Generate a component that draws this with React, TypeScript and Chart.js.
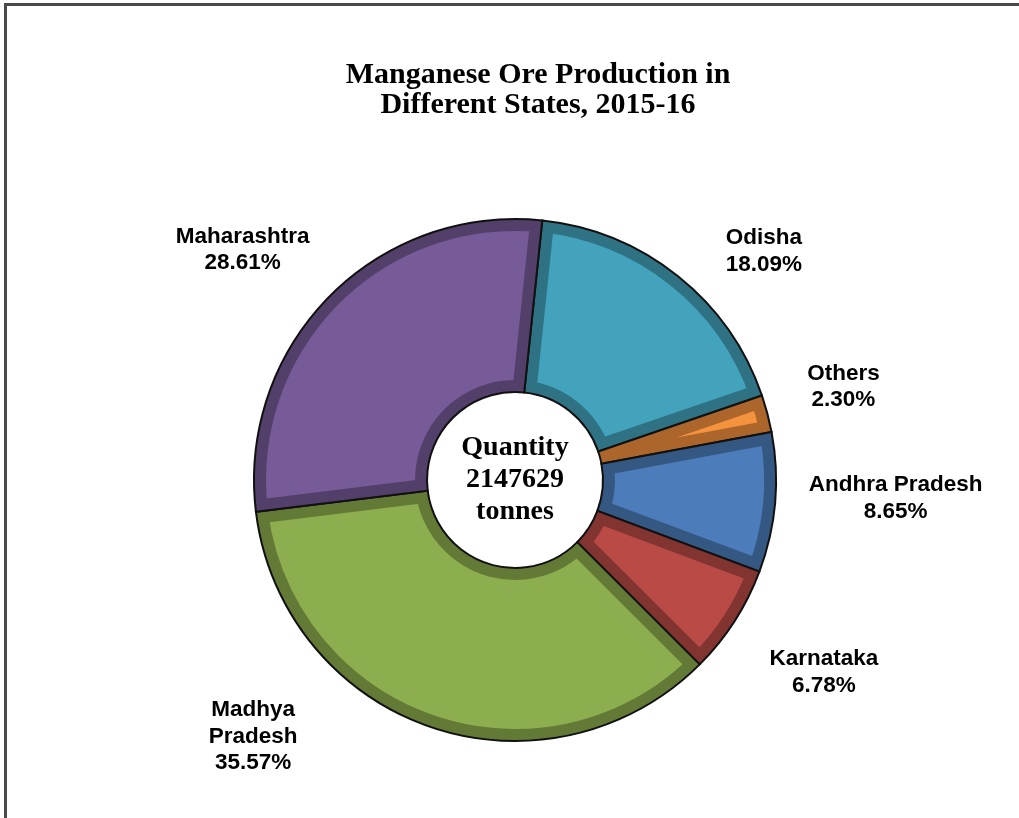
import { useEffect, useRef } from "react";
import { Chart, registerables } from "chart.js";

Chart.register(...registerables);

const titleLines = ["Manganese Ore Production in", "Different States, 2015-16"];
const centerLines = ["Quantity", "2147629", "tonnes"];
const states = ["Odisha", "Others", "Andhra Pradesh", "Karnataka", "Madhya Pradesh", "Maharashtra"];
const labelLines = [["Odisha"], ["Others"], ["Andhra Pradesh"], ["Karnataka"], ["Madhya", "Pradesh"], ["Maharashtra"]];
const shares = [18.09, 2.3, 8.65, 6.78, 35.57, 28.61];
const colors = ["#43A3BD", "#F5923E", "#4C7DBA", "#B94A46", "#8DAE4F", "#765B98"];

// label placement (style): angular shift from slice middle (deg) and distance as fraction of outer radius
const labelAngleShift = [8.6, -1.4, -2.5, -1.1, 26.8, -4.1];
const labelDistance = [1.3, 1.31, 1.46, 1.39, 1.4, 1.37];

function shade(hex: string, f: number) {
  const n = parseInt(hex.slice(1), 16);
  const r = Math.round(((n >> 16) & 255) * f);
  const g = Math.round(((n >> 8) & 255) * f);
  const b = Math.round((n & 255) * f);
  return `rgb(${r},${g},${b})`;
}

const decor = {
  id: "decor",
  beforeDraw(chart: any) {
    const ctx = chart.ctx;
    ctx.save();
    ctx.fillStyle = "#fff";
    ctx.fillRect(0, 0, chart.width, chart.height);
    ctx.strokeStyle = "#4a4a4a";
    ctx.lineWidth = 3;
    ctx.beginPath();
    ctx.moveTo(5.5, chart.height + 5);
    ctx.lineTo(5.5, 4.5);
    ctx.lineTo(chart.width + 5, 4.5);
    ctx.stroke();
    ctx.restore();
  },
  afterDatasetsDraw(chart: any) {
    const ctx = chart.ctx;
    const meta = chart.getDatasetMeta(0);
    let cx = 0;
    let cy = 0;
    meta.data.forEach((arc: any, i: number) => {
      const { x, y, startAngle, endAngle, innerRadius, outerRadius } = arc.getProps([
        "x",
        "y",
        "startAngle",
        "endAngle",
        "innerRadius",
        "outerRadius",
      ]);
      cx = x;
      cy = y;
      const path = () => {
        ctx.beginPath();
        ctx.arc(x, y, outerRadius, startAngle, endAngle);
        ctx.arc(x, y, innerRadius, endAngle, startAngle, true);
        ctx.closePath();
      };
      // bevel band
      ctx.save();
      path();
      ctx.clip();
      ctx.lineJoin = "miter";
      ctx.lineWidth = 24;
      ctx.strokeStyle = shade(colors[i], 0.7);
      path();
      ctx.stroke();
      ctx.restore();
      // outline
      ctx.save();
      path();
      ctx.lineWidth = 2;
      ctx.strokeStyle = "#111";
      ctx.stroke();
      ctx.restore();

      // label
      const mid = (startAngle + endAngle) / 2 + (labelAngleShift[i] * Math.PI) / 180;
      const lx = x + Math.cos(mid) * labelDistance[i] * outerRadius;
      const ly = y + Math.sin(mid) * labelDistance[i] * outerRadius;
      const lines = [...labelLines[i], `${shares[i].toFixed(2)}%`];
      const lh = 26.5;
      const cap = 16;
      const total = cap + (lines.length - 1) * lh;
      ctx.save();
      ctx.font = "bold 22.5px 'Liberation Sans', Arial, sans-serif";
      ctx.fillStyle = "#000";
      ctx.textAlign = "center";
      ctx.textBaseline = "alphabetic";
      lines.forEach((t, k) => {
        ctx.fillText(t, lx, ly - total / 2 + cap + k * lh);
      });
      ctx.restore();
    });

    // centre text
    ctx.save();
    ctx.font = "bold 28px 'Liberation Serif', 'Times New Roman', serif";
    ctx.fillStyle = "#000";
    ctx.textAlign = "center";
    ctx.textBaseline = "alphabetic";
    const cOff = [-25, 7, 39];
    centerLines.forEach((t, k) => ctx.fillText(t, cx, cy + cOff[k]));
    // title
    ctx.font = "bold 30px 'Liberation Serif', 'Times New Roman', serif";
    ctx.fillText(titleLines[0], 538, 83);
    ctx.fillText(titleLines[1], 538, 113);
    ctx.restore();
  },
};

export default function App() {
  const ref = useRef<HTMLCanvasElement>(null);
  useEffect(() => {
    const chart = new Chart(ref.current as HTMLCanvasElement, {
      type: "doughnut",
      data: {
        labels: states,
        datasets: [{ data: shares, backgroundColor: colors, borderWidth: 0 }],
      },
      options: {
        responsive: false,
        animation: false,
        rotation: 6,
        cutout: "33.7%",
        layout: { padding: { left: 254, top: 219, right: 243, bottom: 77 } },
        plugins: {
          legend: { display: false },
          tooltip: { enabled: false },
          title: { display: false },
        },
      },
      plugins: [decor],
    });
    return () => chart.destroy();
  }, []);
  return (
    <div
      style={{
        position: "fixed",
        left: 0,
        top: 0,
        width: 1019,
        height: 818,
        overflow: "hidden",
        background: "#fff",
      }}
    >
      <canvas ref={ref} width={1019} height={818} style={{ display: "block", width: 1019, height: 818 }} />
    </div>
  );
}
